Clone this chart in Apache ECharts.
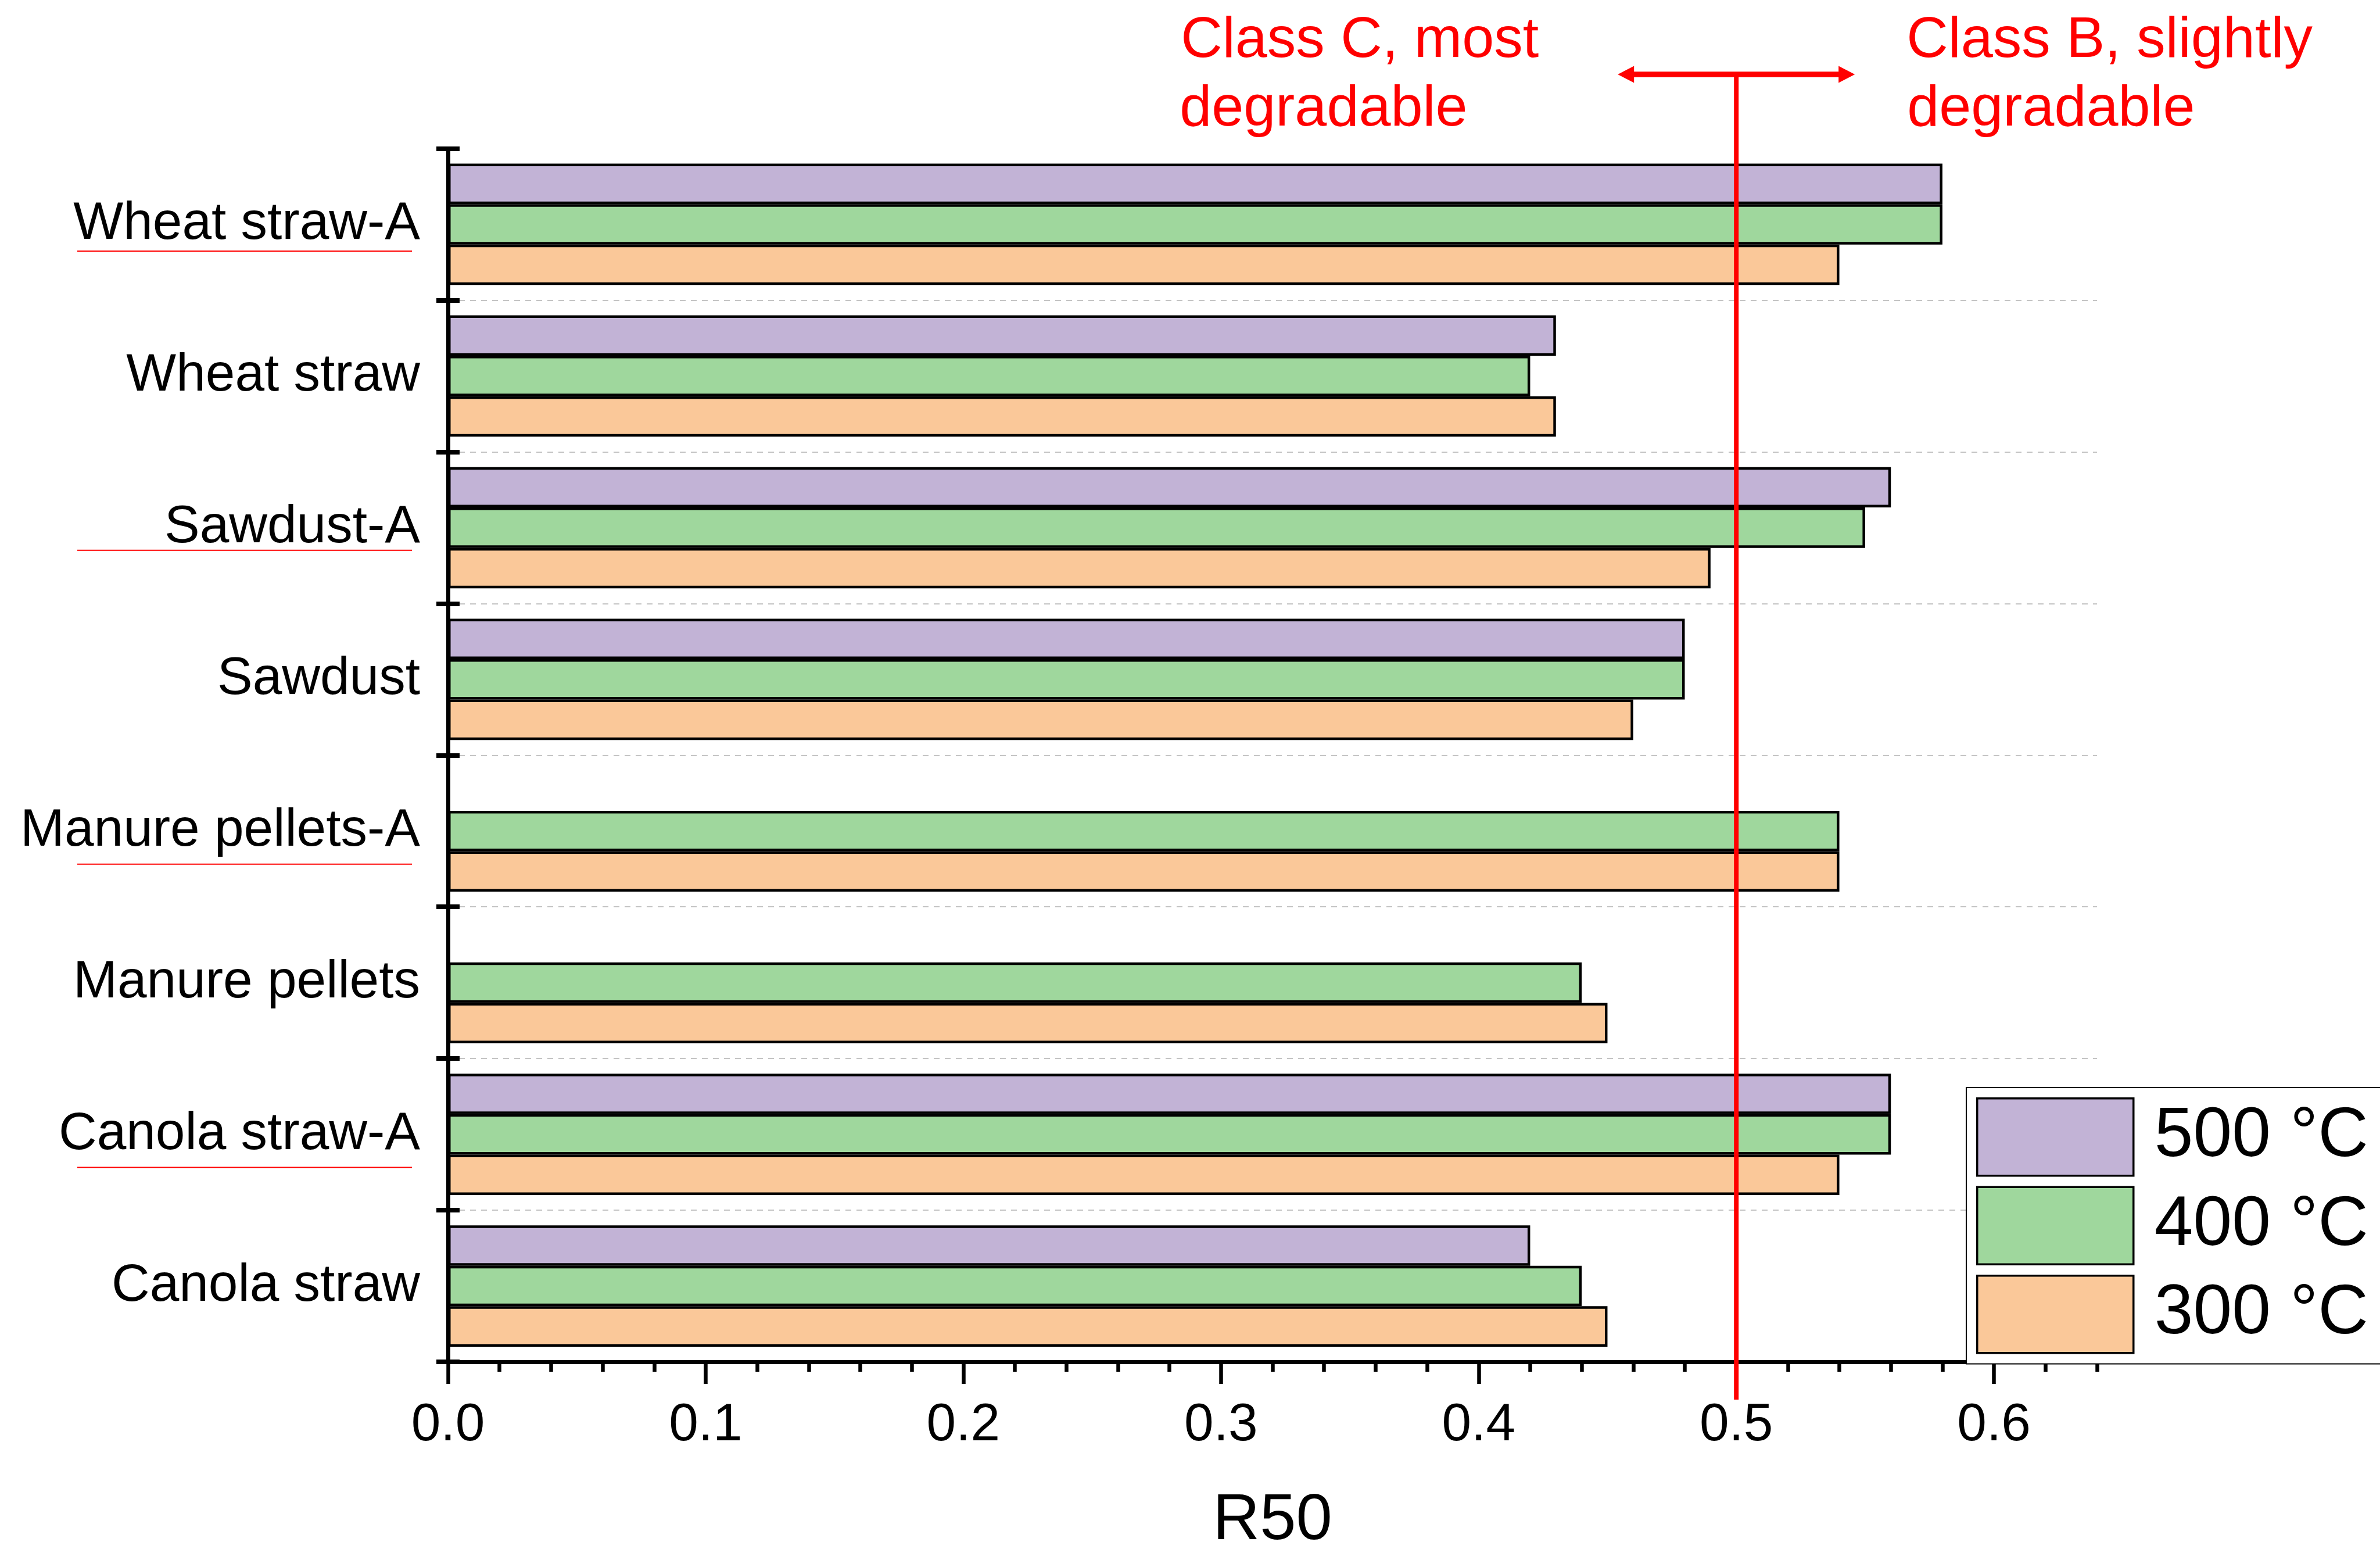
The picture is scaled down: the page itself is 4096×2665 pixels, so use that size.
<!DOCTYPE html>
<html>
<head>
<meta charset="utf-8">
<script src="https://cdn.jsdelivr.net/npm/echarts@6/dist/echarts.min.js"></script>
<style>
  html, body { margin: 0; padding: 0; background: #ffffff; }
  #chart { width: 4096px; height: 2665px; }
</style>
</head>
<body>
<div id="chart"></div>
<script>
// Biochar samples, listed top to bottom
const categories = ['Wheat straw-A', 'Wheat straw', 'Sawdust-A', 'Sawdust',
                    'Manure pellets-A', 'Manure pellets', 'Canola straw-A', 'Canola straw'];

// R50 recalcitrance index by pyrolysis temperature ('-' = not measured)
const r50At500 = [0.58, 0.43, 0.56, 0.48, '-', '-', 0.56, 0.42];
const r50At400 = [0.58, 0.42, 0.55, 0.48, 0.54, 0.44, 0.56, 0.44];
const r50At300 = [0.54, 0.43, 0.49, 0.46, 0.54, 0.45, 0.54, 0.45];

const seriesNames = ['500 °C', '400 °C', '300 °C'];

// x-axis ticks
const majorTickValues = [0, 0.1, 0.2, 0.3, 0.4, 0.5, 0.6];
const minorTickValues = [0.02, 0.04, 0.06, 0.08, 0.12, 0.14, 0.16, 0.18,
                         0.22, 0.24, 0.26, 0.28, 0.32, 0.34, 0.36, 0.38,
                         0.42, 0.44, 0.46, 0.48, 0.52, 0.54, 0.56, 0.58,
                         0.62, 0.64];
const xMax = 0.64;

// Class B / Class C threshold on R50
const classBoundary = 0.5;
const classLeftText = ['Class C, most', 'degradable'];
const classRightText = ['Class B, slightly', 'degradable'];

// Samples marked with a red underline
const underlinedCategories = ['Wheat straw-A', 'Sawdust-A', 'Manure pellets-A', 'Canola straw-A'];

const FONT = '"Liberation Sans", Arial, Helvetica, sans-serif';
const colors = ['#C2B3D6', '#9FD79D', '#FAC899'];
const seriesData = [r50At500, r50At400, r50At300];

const chart = echarts.init(document.getElementById('chart'), null, { renderer: 'canvas' });

const option = {
  backgroundColor: '#ffffff',
  animation: false,
  textStyle: { fontFamily: FONT },
  grid: { left: 771, right: 487, top: 255.5, bottom: 322, containLabel: false, outerBoundsMode: 'none' },
  legend: {
    orient: 'vertical',
    left: 3384,
    top: 1871,
    itemWidth: 269,
    itemHeight: 133,
    itemGap: 16,
    padding: [17, 24, 17, 17],
    backgroundColor: '#ffffff',
    borderColor: '#000000',
    borderWidth: 2,
    icon: 'rect',
    itemStyle: { borderColor: '#000000', borderWidth: 3.5 },
    textStyle: { fontSize: 120, color: '#000000', fontFamily: FONT, padding: [0, 0, 0, 31] },
    data: seriesNames
  },
  xAxis: [
    {
      type: 'value',
      min: 0,
      max: xMax,
      position: 'bottom',
      axisLine: { show: true, lineStyle: { color: '#000000', width: 7 } },
      axisTick: { show: true, customValues: majorTickValues, length: 38,
                  lineStyle: { color: '#000000', width: 6.5 } },
      axisLabel: { show: true, customValues: majorTickValues, fontSize: 91, margin: 64,
                   color: '#000000', fontFamily: FONT,
                   formatter: v => v.toFixed(1) },
      splitLine: { show: false },
      name: 'R50',
      nameLocation: 'middle',
      nameGap: 218,
      nameTextStyle: { fontSize: 112, color: '#000000', fontFamily: FONT }
    },
    {
      // minor ticks
      type: 'value',
      min: 0,
      max: xMax,
      position: 'bottom',
      axisLine: { show: false },
      axisTick: { show: true, customValues: minorTickValues, length: 17,
                  lineStyle: { color: '#000000', width: 6.5 } },
      axisLabel: { show: false },
      splitLine: { show: false }
    }
  ],
  yAxis: [
    {
      type: 'category',
      data: categories,
      inverse: true,
      position: 'left',
      axisLine: { show: true, lineStyle: { color: '#000000', width: 7 } },
      axisTick: { show: true, length: 20, lineStyle: { color: '#000000', width: 8 } },
      axisLabel: { fontSize: 91, margin: 48, color: '#000000', fontFamily: FONT },
      splitLine: { show: true, showMinLine: false, showMaxLine: false,
                   lineStyle: { type: [10, 9], color: '#c4c4c4', width: 2 } }
    },
    {
      // inward half of the crossing ticks
      type: 'category',
      data: categories,
      inverse: true,
      position: 'left',
      axisLine: { show: false },
      axisTick: { show: true, inside: true, length: 20, lineStyle: { color: '#000000', width: 8 } },
      axisLabel: { show: false },
      splitLine: { show: false }
    }
  ],
  series: seriesNames.map((name, i) => ({
    type: 'bar',
    name: name,
    xAxisIndex: 0,
    yAxisIndex: 0,
    data: seriesData[i],
    barGap: '0%',
    barCategoryGap: '20%',
    itemStyle: { color: colors[i], borderColor: '#000000', borderWidth: 4.5 }
  }))
};

chart.setOption(option);

// Annotations: class threshold line, arrow, class texts and label underlines
const RED = '#ff0000';
const xb = chart.convertToPixel({ xAxisIndex: 0 }, classBoundary);

const arrowY = 128;
const arrowHalf = 204;
const headLen = 28;
const headHalf = 14.5;
const shaftHalf = 4.8;

const underlineOffsets = { 'Wheat straw-A': 46, 'Sawdust-A': 39, 'Manure pellets-A': 57, 'Canola straw-A': 57 };

const graphics = [
  {
    type: 'line', z: 100, silent: true,
    shape: { x1: xb, y1: arrowY, x2: xb, y2: 2408 },
    style: { stroke: RED, lineWidth: 8 }
  },
  {
    type: 'rect', z: 100, silent: true,
    shape: { x: xb - arrowHalf + headLen - 1, y: arrowY - shaftHalf,
             width: 2 * (arrowHalf - headLen) + 2, height: 2 * shaftHalf },
    style: { fill: RED }
  },
  {
    type: 'polygon', z: 100, silent: true,
    shape: { points: [[xb - arrowHalf, arrowY], [xb - arrowHalf + headLen, arrowY - headHalf],
                      [xb - arrowHalf + headLen, arrowY + headHalf]] },
    style: { fill: RED }
  },
  {
    type: 'polygon', z: 100, silent: true,
    shape: { points: [[xb + arrowHalf, arrowY], [xb + arrowHalf - headLen, arrowY - headHalf],
                      [xb + arrowHalf - headLen, arrowY + headHalf]] },
    style: { fill: RED }
  }
];

const textLines = [
  [classLeftText[0], xb - 956, 71],
  [classLeftText[1], xb - 958, 189],
  [classRightText[0], xb + 293, 71],
  [classRightText[1], xb + 294, 189]
];
textLines.forEach(([t, x, y]) => {
  graphics.push({
    type: 'text', z: 100, silent: true,
    x: x, y: y,
    style: { text: t, fill: RED, font: '99px ' + FONT, textAlign: 'left', verticalAlign: 'middle' }
  });
});

underlinedCategories.forEach(cat => {
  const cy = chart.convertToPixel({ yAxisIndex: 0 }, cat);
  graphics.push({
    type: 'line', z: 100, silent: true,
    shape: { x1: 133, y1: cy + underlineOffsets[cat], x2: 709, y2: cy + underlineOffsets[cat] },
    style: { stroke: RED, lineWidth: 2 }
  });
});

chart.setOption({ graphic: graphics });
</script>
</body>
</html>
